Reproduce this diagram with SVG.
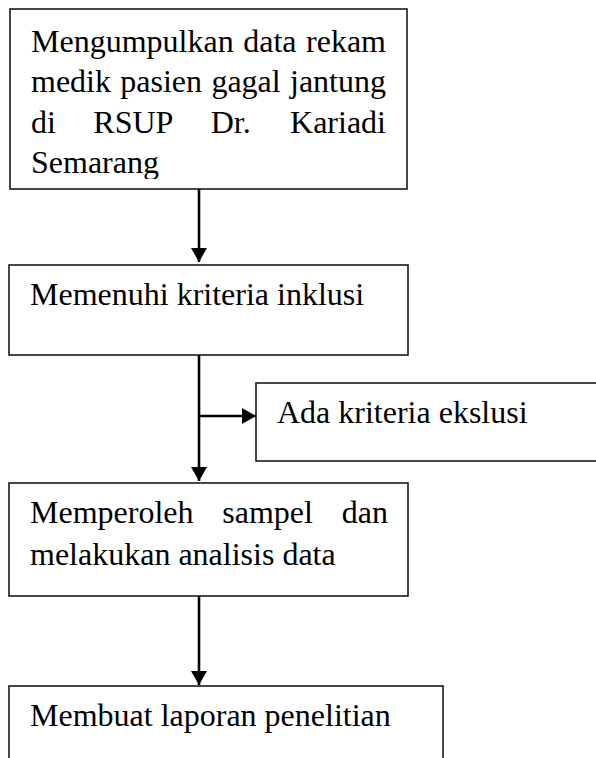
<svg xmlns="http://www.w3.org/2000/svg" width="596" height="758" viewBox="0 0 596 758">
<style>
.box{fill:#fff;stroke:#1a1a1a;stroke-width:1.6}
.t{font-family:"Liberation Serif","Times New Roman",serif;font-size:32px;fill:#000}
.c{stroke:#000;stroke-width:2.6;fill:none}
</style>
<defs>
<marker id="ah" viewBox="0 0 14 16" refX="14" refY="8" markerWidth="14" markerHeight="16" markerUnits="userSpaceOnUse" orient="auto">
<path d="M0,0 L14,8 L0,16 z" fill="#000"/>
</marker>
<clipPath id="clip1"><rect x="0" y="0" width="596" height="179"/></clipPath>
</defs>
<rect width="596" height="758" fill="#fff"/>
<g id="n1">
<rect class="box" x="10" y="9" width="397" height="180"/>
<text class="t" y="52"><tspan x="31">Mengumpulkan</tspan><tspan x="243.2">data</tspan><tspan x="386" text-anchor="end">rekam</tspan></text>
<text class="t" y="92"><tspan x="31">medik</tspan><tspan x="120.3">pasien</tspan><tspan x="211.4">gagal</tspan><tspan x="386" text-anchor="end">jantung</tspan></text>
<text class="t" y="133"><tspan x="31">di</tspan><tspan x="93.3">RSUP</tspan><tspan x="210.7">Dr.</tspan><tspan x="386" text-anchor="end">Kariadi</tspan></text>
<text class="t" x="31" y="173" clip-path="url(#clip1)">Semarang</text>
</g>
<g id="n2">
<rect class="box" x="9" y="265" width="399" height="90"/>
<text class="t" x="30" y="305">Memenuhi kriteria inklusi</text>
</g>
<g id="n3">
<rect class="box" x="256" y="383" width="345" height="78"/>
<text class="t" x="277" y="423">Ada kriteria ekslusi</text>
</g>
<g id="n4">
<rect class="box" x="9" y="483" width="399" height="113"/>
<text class="t" y="523"><tspan x="30">Memperoleh</tspan><tspan x="222.3">sampel</tspan><tspan x="388" text-anchor="end">dan</tspan></text>
<text class="t" x="30" y="565">melakukan analisis data</text>
</g>
<g id="n5">
<rect class="box" x="9" y="686" width="434" height="100"/>
<text class="t" x="30" y="726">Membuat laporan penelitian</text>
</g>
<g id="connectors">
<line class="c" x1="199" y1="189" x2="199" y2="262" marker-end="url(#ah)"/>
<line class="c" x1="199" y1="355" x2="199" y2="481" marker-end="url(#ah)"/>
<line class="c" x1="199" y1="416" x2="256" y2="416" marker-end="url(#ah)"/>
<line class="c" x1="199" y1="596" x2="199" y2="685" marker-end="url(#ah)"/>
</g>
</svg>
